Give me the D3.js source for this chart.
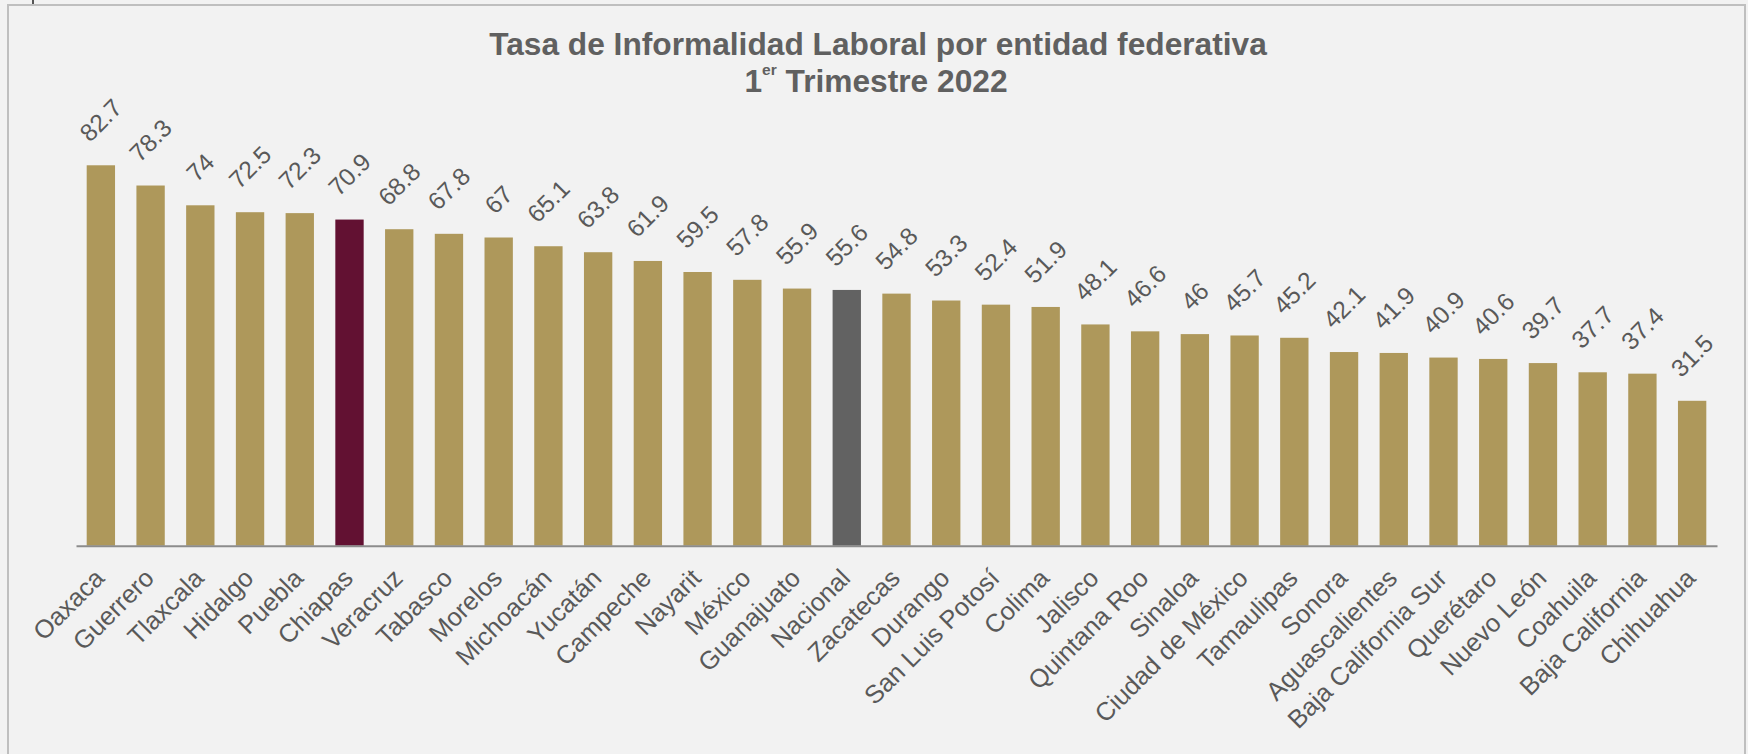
<!DOCTYPE html>
<html>
<head>
<meta charset="utf-8">
<script src="https://cdn.jsdelivr.net/npm/d3@7"></script>
<style>
  html, body { margin: 0; padding: 0; background: #f2f2f2; }
  svg { display: block; }
</style>
</head>
<body>
<svg id="chart" width="1748" height="754"></svg>
<script>
const categories = ["Oaxaca","Guerrero","Tlaxcala","Hidalgo","Puebla","Chiapas","Veracruz","Tabasco","Morelos","Michoacán","Yucatán","Campeche","Nayarit","México","Guanajuato","Nacional","Zacatecas","Durango","San Luis Potosí","Colima","Jalisco","Quintana Roo","Sinaloa","Ciudad de México","Tamaulipas","Sonora","Aguascalientes","Baja California Sur","Querétaro","Nuevo León","Coahuila","Baja California","Chihuahua"];
const values = [82.7,78.3,74,72.5,72.3,70.9,68.8,67.8,67,65.1,63.8,61.9,59.5,57.8,55.9,55.6,54.8,53.3,52.4,51.9,48.1,46.6,46,45.7,45.2,42.1,41.9,40.9,40.6,39.7,37.7,37.4,31.5];
const highlight = {"Chiapas": "#621132", "Nacional": "#626262"};
const titleLine1 = "Tasa de Informalidad Laboral por entidad federativa";
const titleLine2 = ["1", "er", " Trimestre 2022"];

const data = categories.map((c, i) => ({cat: c, val: values[i]}));

const svg = d3.select("#chart");
const W = 1748, H = 754;
const axisY = 545.7;

svg.append("rect").attr("x", 0).attr("y", 0).attr("width", W).attr("height", H).attr("fill", "#f2f2f2");
// frame
svg.append("rect").attr("x", 8).attr("y", 5).attr("width", 1737).attr("height", 800)
  .attr("fill", "none").attr("stroke", "#bfbfbf").attr("stroke-width", 2);
svg.append("line").attr("x1", 33).attr("x2", 33).attr("y1", 0).attr("y2", 4)
  .attr("stroke", "#555").attr("stroke-width", 2);

const x = d3.scaleBand().domain(categories).range([76, 1717]).paddingInner(0.43).paddingOuter(0.215);
const y = d3.scaleLinear().domain([0, 100]).range([axisY, axisY - 460]);

// title
const title = svg.append("g").attr("fill", "#606060").attr("font-family", "'Liberation Sans', Arial, sans-serif");
title.append("text").attr("x", 878).attr("y", 54.5).attr("text-anchor", "middle")
  .attr("font-size", 31.7).attr("font-weight", "bold").text(titleLine1);
const t2 = title.append("text").attr("x", 876).attr("y", 92).attr("text-anchor", "middle")
  .attr("font-size", 31.7).attr("font-weight", "bold");
t2.append("tspan").text(titleLine2[0]);
t2.append("tspan").attr("font-size", 15.5).attr("dy", -17).text(titleLine2[1]);
t2.append("tspan").attr("dy", 17).text(titleLine2[2]);

// bars
svg.append("g").selectAll("rect").data(data).join("rect")
  .attr("x", d => x(d.cat))
  .attr("y", d => y(d.val))
  .attr("width", x.bandwidth())
  .attr("height", d => axisY - y(d.val))
  .attr("fill", d => highlight[d.cat] || "#ae985b");

// axis
const axis = svg.append("g").attr("transform", `translate(0,${axisY})`)
  .call(d3.axisBottom(x).tickSize(0).tickSizeOuter(0).tickFormat(""));
axis.select(".domain").attr("stroke", "#8c8c8c").attr("stroke-width", 2);

// value labels
const vfs = 24.5;
const vg = svg.append("g").attr("font-family", "'Liberation Sans', Arial, sans-serif")
  .attr("font-size", vfs).attr("fill", "#595959");
vg.selectAll("text").data(data).join("text")
  .attr("text-anchor", "middle")
  .attr("dominant-baseline", "central")
  .text(d => d.val)
  .each(function(d) {
    const w = this.getComputedTextLength();
    const h = 0.72 * vfs;
    const half = (w + h) / (2 * Math.SQRT2);
    const cx = x(d.cat) + x.bandwidth() / 2;
    const cy = y(d.val) - 22 - half;
    d3.select(this).attr("transform", `translate(${cx},${cy}) rotate(-45)`);
  });

// category labels
const cfs = 25.5;
const cg = svg.append("g").attr("font-family", "'Liberation Sans', Arial, sans-serif")
  .attr("font-size", cfs).attr("fill", "#595959");
cg.selectAll("text").data(data).join("text")
  .attr("text-anchor", "end")
  .attr("transform", d => `translate(${x(d.cat) + x.bandwidth() / 2 + 5},${axisY + 34}) rotate(-45)`)
  .text(d => d.cat);
</script>
</body>
</html>
